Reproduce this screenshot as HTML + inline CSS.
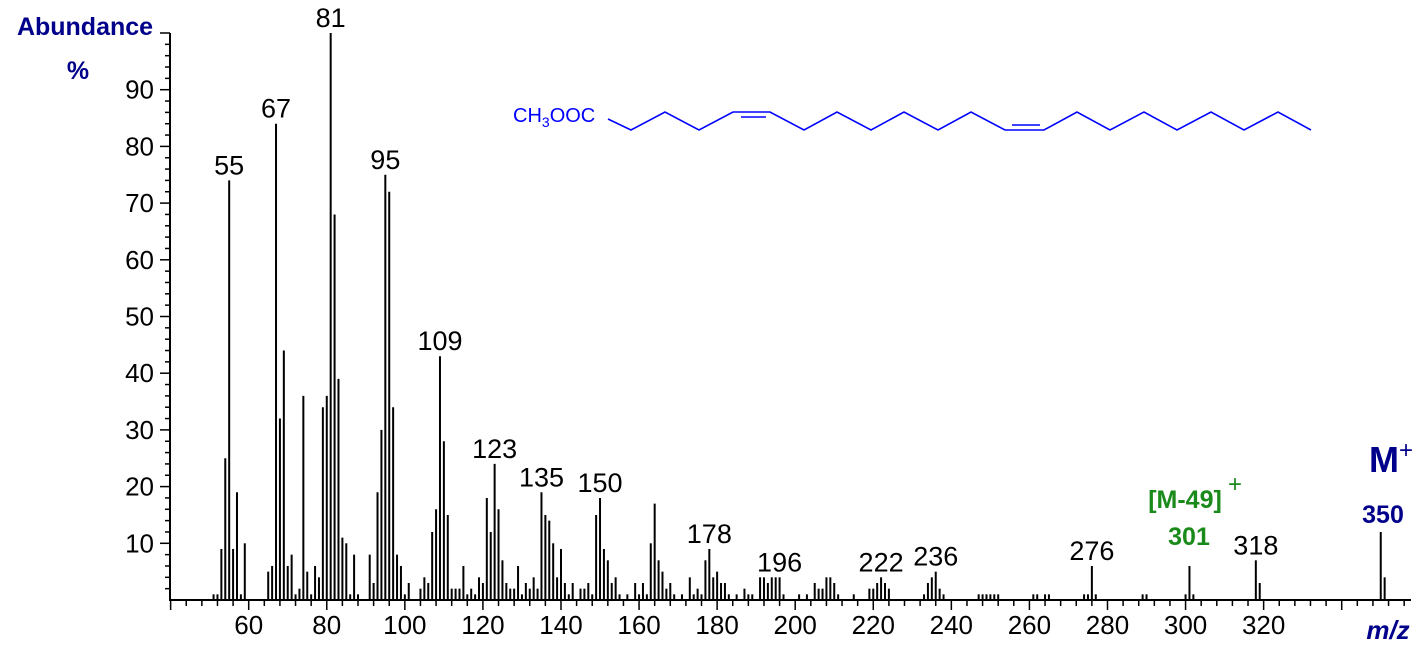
<!DOCTYPE html>
<html><head><meta charset="utf-8"><style>
body{margin:0;background:#fff;width:1427px;height:650px;overflow:hidden}
svg text{font-family:"Liberation Sans",sans-serif}
</style></head><body>
<svg id="chart" width="1427" height="650" viewBox="0 0 1427 650" xmlns="http://www.w3.org/2000/svg">
<text x="85" y="35" text-anchor="middle" font-size="25" font-weight="bold" fill="#00008b">Abundance</text>
<text x="78" y="79" text-anchor="middle" font-size="25" font-weight="bold" fill="#00008b">%</text>
<text x="1388" y="639" text-anchor="middle" font-size="26" font-weight="bold" font-style="italic" fill="#00008b">m/z</text>
<g id="axes"></g>
<g id="bars"></g>
<g id="labels"></g>
<g fill="#1a8a1a" font-weight="bold">
<text x="1185" y="508" text-anchor="middle" font-size="25">[M-49]</text>
<text x="1235" y="492" text-anchor="middle" font-size="24" font-weight="normal">+</text>
<text x="1189" y="545" text-anchor="middle" font-size="25">301</text>
</g>
<g fill="#00008b" font-weight="bold">
<text x="1384" y="472" text-anchor="middle" font-size="36">M</text>
<text x="1406" y="458" text-anchor="middle" font-size="24" font-weight="normal">+</text>
<text x="1383" y="523" text-anchor="middle" font-size="25">350</text>
</g>
<g stroke="#0000ff" stroke-width="1.6" fill="none">
<text x="513" y="122" font-size="20" fill="#0000ff" stroke="none">CH<tspan font-size="14" dy="5">3</tspan><tspan dy="-5">OOC</tspan></text>
<polyline id="chain" points=""/>
<line x1="741" y1="117" x2="766" y2="117"/>
<line x1="1012" y1="125" x2="1040" y2="125"/>
</g>
</svg>
<script>
const masses=[51,52,53,54,55,56,57,58,59,65,66,67,68,69,70,71,72,73,74,75,76,77,78,79,80,81,82,83,84,85,86,87,88,91,92,93,94,95,96,97,98,99,100,101,104,105,106,107,108,109,110,111,112,113,114,115,116,117,118,119,120,121,122,123,124,125,126,127,128,129,130,131,132,133,134,135,136,137,138,139,140,141,142,143,145,146,147,148,149,150,151,152,153,154,155,157,159,160,161,162,163,164,165,166,167,168,169,171,173,174,175,176,177,178,179,180,181,182,183,185,187,188,189,191,192,193,194,195,196,197,201,203,205,206,207,208,209,210,211,215,219,220,221,222,223,224,233,234,235,236,237,238,247,248,249,250,251,252,261,262,264,265,274,275,276,277,289,290,300,301,302,318,319,350,351];
const abundances=[1,1,9,25,74,9,19,1,10,5,6,84,32,44,6,8,1,2,36,5,1,6,4,34,36,100,68,39,11,10,1,8,1,8,3,19,30,75,72,34,8,6,1,3,2,4,3,12,16,43,28,15,2,2,2,6,1,2,1,4,3,18,12,24,16,7,3,2,2,6,1,3,2,4,2,19,15,14,10,4,9,3,1,3,2,2,3,1,15,18,9,7,3,4,1,1,3,1,3,1,10,17,7,5,2,3,1,1,4,1,2,1,7,9,4,5,3,3,1,1,2,1,1,4,4,3,4,4,4,1,1,1,3,2,2,4,4,3,1,1,2,2,3,4,3,2,1,3,4,5,2,1,1,1,1,1,1,1,1,1,1,1,1,1,6,1,1,1,1,6,1,7,3,12,4];
const labelMasses=[55,67,81,95,109,123,135,150,178,196,222,236,276,318];
const xTicks=[60,80,100,120,140,160,180,200,220,240,260,280,300,320];
const yTicks=[10,20,30,40,50,60,70,80,90];
const NS="http://www.w3.org/2000/svg";
const X=m=>248.7+(m-60)*3.9036;
const Y=v=>600-v*5.67;
function mk(tag,attrs,parent){const e=document.createElementNS(NS,tag);for(const k in attrs)e.setAttribute(k,attrs[k]);parent.appendChild(e);return e;}
const axes=document.getElementById('axes');
let a=mk('line',{x1:170,y1:33,x2:170,y2:600,stroke:'#000','stroke-width':2},axes);


a=mk('line',{x1:169,y1:600,x2:1411,y2:600,stroke:'#000','stroke-width':2},axes);


for(let v=2;v<=100;v+=2){const maj=v%10===0;const t=mk('line',{x1:maj?160:165,y1:Y(v),x2:170,y2:Y(v),stroke:'#000','stroke-width':1.5},axes);

}
yTicks.forEach(v=>{const t=mk('text',{x:154,y:Y(v)+9,'text-anchor':'end','font-size':26,fill:'#000'},axes);t.textContent=v;

});
for(let m=40;m<=356;m+=4){const maj=m%20===0;const t=mk('line',{x1:X(m),y1:600,x2:X(m),y2:maj?610:606,stroke:'#000','stroke-width':1.5},axes);

}
xTicks.forEach(m=>{const t=mk('text',{x:X(m),y:634,'text-anchor':'middle','font-size':26,fill:'#000'},axes);t.textContent=m;

});
const bars=document.getElementById('bars');
masses.forEach((m,i)=>{const b=mk('line',{x1:X(m),y1:600,x2:X(m),y2:Y(abundances[i]),stroke:'#000','stroke-width':2},bars);

});
const labels=document.getElementById('labels');
labelMasses.forEach(m=>{const i=masses.indexOf(m);const t=mk('text',{x:X(m),y:Y(abundances[i])-6,'text-anchor':'middle','font-size':27,fill:'#000'},labels);t.textContent=m;

});
const hi=112,lo=130;
const pts=[[608,119],[631,lo],[665,hi],[699,lo],[733,hi],[770,hi],[804,lo],[837,hi],[871,lo],[904,hi],[938,lo],[971,hi],[1005,lo],[1044,lo],[1077,hi],[1110,lo],[1144,hi],[1177,lo],[1211,hi],[1244,lo],[1278,hi],[1311,lo]];
document.getElementById('chain').setAttribute('points',pts.map(p=>p.join(',')).join(' '));
</script>
</body></html>
